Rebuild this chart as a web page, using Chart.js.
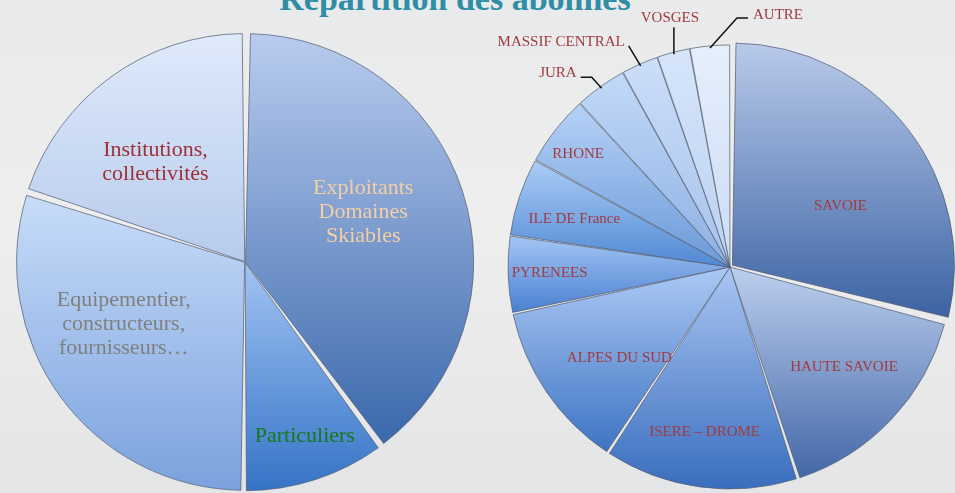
<!DOCTYPE html>
<html lang="fr">
<head>
  <meta charset="UTF-8" />
  <title>Répartition des abonnés</title>
  <style>
    html, body { margin: 0; padding: 0; }
    body {
      width: 955px; height: 493px; overflow: hidden; position: relative;
      background: linear-gradient(180deg, #e9eaeb 0%, #eeeeee 45%, #e4e5e6 100%);
      font-family: "Liberation Serif", serif;
    }
    .titre {
      position: absolute; left: 0; width: 910px; top: -18px;
      text-align: center; font: bold 34px "Liberation Serif", serif;
      line-height: 34px; color: #2f8ea6; margin: 0;
    }
    .camembert { position: absolute; width: 480px; }
    #gauche { left: 5px; top: 22px; height: 480px; }
    #droite { left: 490px; top: 0px; height: 534px; }
  </style>
</head>
<body>
  <h1 class="titre">Répartition des abonnés</h1>
  <div class="camembert" id="gauche"><canvas id="pieProfils"></canvas></div>
  <div class="camembert" id="droite"><canvas id="pieRegions"></canvas></div>

  <script src="https://cdn.jsdelivr.net/npm/chart.js"></script>
  <script>
    // Répartition par profil (%)
    const profils = [
      ["Exploitants", "Domaines", "Skiables"],
      "Particuliers",
      ["Equipementier,", "constructeurs,", "fournisseurs…"],
      ["Institutions,", "collectivités"]
    ];
    const partsProfils = [40, 10, 30, 20];

    // Répartition par région (%)
    const regions = ["SAVOIE", "HAUTE SAVOIE", "ISERE – DROME", "ALPES DU SUD", "PYRENEES",
      "ILE DE France", "RHONE", "JURA", "MASSIF CENTRAL", "VOSGES", "AUTRE"];
    const partsRegions = [29, 16, 14.2, 12.4, 5.6, 5.7, 5.2, 3.8, 2.7, 2.4, 2.9];

    const degradesProfils = [
      ["#b8cbee", "#3a68ac"],
      ["#a2c4f4", "#3674c6"],
      ["#c8ddf9", "#7ba2de"],
      ["#dfeafb", "#b6cbec"]
    ];
    const degradesRegions = [
      ["#b8c9ea", "#3a62a2"],
      ["#bccfee", "#4468a8"],
      ["#aac6f2", "#3a6ebe"],
      ["#acc9f4", "#3e74c4"],
      ["#a4c6f4", "#4a80d0"],
      ["#aacdf6", "#5088d4"],
      ["#b6d1f7", "#6a9ad8"],
      ["#c2d9f8", "#8cb0e4"],
      ["#cbdef9", "#a6c1ec"],
      ["#d6e5fa", "#bad1f1"],
      ["#e6effc", "#cadcf6"]
    ];

    // dégradé vertical sur la boîte englobante de chaque part
    function degrade(couleurs, rayon) {
      return (c) => {
        const chart = c.chart;
        const area = chart.chartArea;
        if (!area) return couleurs[c.dataIndex][1];
        const data = chart.data.datasets[0].data;
        const total = data.reduce((a, b) => a + b, 0);
        let avant = 0;
        for (let k = 0; k < c.dataIndex; k++) avant += data[k];
        const a0 = -Math.PI / 2 + avant / total * 2 * Math.PI;
        const a1 = a0 + data[c.dataIndex] / total * 2 * Math.PI;
        const cy = (area.top + area.bottom) / 2;
        const ys = [cy, cy + Math.sin(a0) * rayon, cy + Math.sin(a1) * rayon];
        for (let a = a0; a <= a1; a += 0.02) ys.push(cy + Math.sin(a) * rayon);
        const g = chart.ctx.createLinearGradient(0, Math.min(...ys), 0, Math.max(...ys));
        g.addColorStop(0, couleurs[c.dataIndex][0]);
        g.addColorStop(1, couleurs[c.dataIndex][1]);
        return g;
      };
    }

    const etiquettes = {
      id: 'etiquettes',
      afterDatasetsDraw(chart, args, opts) {
        const meta = chart.getDatasetMeta(0);
        const ctx = chart.ctx;
        ctx.save();
        ctx.font = opts.font;
        ctx.textBaseline = 'middle';
        meta.data.forEach((arc, i) => {
          const p = arc.getProps(['x', 'y', 'startAngle', 'endAngle', 'outerRadius', 'circumference'], true);
          const mid = (p.startAngle + p.endAngle) / 2;
          // même décalage que celui appliqué par ArcElement
          const o = (arc.options.offset || 0) / 4;
          const dec = o * (2 - Math.sin(Math.min(Math.PI, p.circumference)));
          const cx = p.x + Math.cos(mid) * dec;
          const cy = p.y + Math.sin(mid) * dec;
          ctx.fillStyle = Array.isArray(opts.color) ? opts.color[i] : opts.color;
          const ext = opts.exterieur && opts.exterieur[i];
          const lignes = [].concat(chart.data.labels[i]);
          if (ext) {
            const ex = cx + Math.cos(mid) * p.outerRadius;
            const ey = cy + Math.sin(mid) * p.outerRadius;
            const kx = ex + ext.d[0], ky = ey + ext.d[1];
            const fx = kx + ext.h, fy = ky;
            ctx.strokeStyle = '#111';
            ctx.lineWidth = 1.5;
            ctx.beginPath();
            ctx.moveTo(ex, ey); ctx.lineTo(kx, ky); ctx.lineTo(fx, fy);
            ctx.stroke();
            if (ext.pos === 'gauche') { ctx.textAlign = 'right'; ctx.fillText(lignes[0], fx - 4, fy - 4); }
            else if (ext.pos === 'droite') { ctx.textAlign = 'left'; ctx.fillText(lignes[0], fx + 5, fy - 3); }
            else { ctx.textAlign = 'center'; ctx.fillText(lignes[0], fx - 4, fy - 9); }
          } else {
            const pl = opts.place[i];
            const a = mid + pl.a * Math.PI / 180;
            const x = cx + Math.cos(a) * p.outerRadius * pl.r;
            const y = cy + Math.sin(a) * p.outerRadius * pl.r;
            ctx.textAlign = 'center';
            lignes.forEach((t, k) => ctx.fillText(t, x, y + (k - (lignes.length - 1) / 2) * opts.interligne));
          }
        });
        ctx.restore();
      }
    };

    new Chart(document.getElementById("pieProfils"), {
      type: "pie",
      data: {
        labels: profils,
        datasets: [{
          data: partsProfils,
          backgroundColor: degrade(degradesProfils, 226),
          borderColor: "rgba(80,90,110,0.7)",
          borderWidth: 1,
          spacing: 4,
          offset: 2
        }]
      },
      options: {
        responsive: true,
        maintainAspectRatio: false,
        animation: false,
        radius: 226,
        plugins: {
          legend: { display: false },
          tooltip: { enabled: false },
          etiquettes: {
            font: '22px "Liberation Serif", serif',
            interligne: 24,
            color: ["#f3cfa6", "#157a1c", "#808080", "#9e2f35"],
            place: [{ r: 0.565, a: -5 }, { r: 0.81, a: -1 }, { r: 0.6, a: 9 }, { r: 0.59, a: -6 }]
          }
        }
      },
      plugins: [etiquettes]
    });

    new Chart(document.getElementById("pieRegions"), {
      type: "pie",
      data: {
        labels: regions,
        datasets: [{
          data: partsRegions,
          backgroundColor: degrade(degradesRegions, 220),
          borderColor: "rgba(80,90,110,0.7)",
          borderWidth: 1,
          spacing: 4,
          offset: [12, 0, 0, 0, 0, 0, 0, 0, 0, 0, 0]
        }]
      },
      options: {
        responsive: true,
        maintainAspectRatio: false,
        animation: false,
        radius: 220,
        plugins: {
          legend: { display: false },
          tooltip: { enabled: false },
          etiquettes: {
            font: '15px "Liberation Serif", serif',
            interligne: 16,
            color: "#a23a3e",
            place: [{ r: 0.56, a: 9 }, { r: 0.69, a: -2 }, { r: 0.76, a: 1 }, { r: 0.65, a: -5 },
              { r: 0.82, a: 0 }, { r: 0.74, a: -1.5 }, { r: 0.86, a: -1.5 }],
            exterieur: {
              7: { d: [-10, -11], h: -11, pos: 'gauche' },
              8: { d: [-12, -20], h: 0, pos: 'gauche' },
              9: { d: [0, -27], h: 0, pos: 'haut' },
              10: { d: [27, -30], h: 11, pos: 'droite' }
            }
          }
        }
      },
      plugins: [etiquettes]
    });
  </script>
</body>
</html>
